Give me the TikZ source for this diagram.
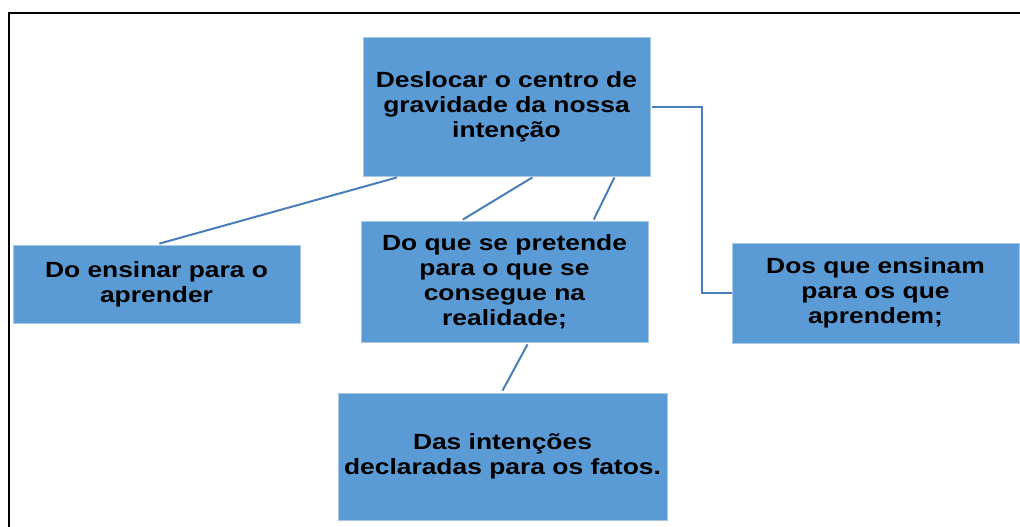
\documentclass[tikz,border=0pt]{standalone}
\usepackage{fontspec}
\usetikzlibrary{positioning,calc}
\newfontfamily\boxfont{Liberation Sans}[FakeStretch=1.2]
\definecolor{boxblue}{HTML}{5B9BD5}
\definecolor{lineblue}{HTML}{4A7EBB}
\definecolor{edgeblue}{HTML}{A8C8EA}
\tikzstyle{link} = [draw=lineblue, line width=2pt]
\tikzstyle{bluebox} = [draw=edgeblue, line width=0.8pt, fill=boxblue, rectangle, inner sep=0, align=center, font=\boxfont\bfseries\fontsize{22}{25}\selectfont]

\begin{document}
\begin{tikzpicture}[x=1pt, y=-1pt]
    \useasboundingbox (0,0) rectangle (1020,527);
    \draw [line width=2.4pt] (9,527) -- (9,13) -- (1020,13);

    \node [bluebox, minimum width=287, minimum height=139] (centro) at (506.5,106.5) {Deslocar o centro de\\gravidade da nossa\\intenção};
    \node [bluebox, minimum width=287, minimum height=78] (ensinar) at (156.5,284) {Do ensinar para o\\aprender};
    \node [bluebox, minimum width=287, minimum height=121] (pretende) at (504.5,281.5) {Do que se pretende\\para o que se\\consegue na\\realidade;};
    \node [bluebox, minimum width=287, minimum height=100] (ensinam) at (875.5,293) {Dos que ensinam\\para os que\\aprendem;};
    \node [bluebox, minimum width=329, minimum height=127] (fatos) at (502.5,456.5) {Das intenções\\declaradas para os fatos.};

    \draw [link] ($(centro.south west)!0.12!(centro.south east)+(0,1)$) -- ($(ensinar.north west)!0.51!(ensinar.north east)+(0,-1)$);
    \draw [link] ($(centro.south west)!0.59!(centro.south east)+(0,1)$) -- ($(pretende.north west)!0.355!(pretende.north east)+(0,-1)$);
    \draw [link] ($(centro.south west)!0.875!(centro.south east)+(0,1)$) -- ($(pretende.north west)!0.81!(pretende.north east)+(0,-1)$);
    \draw [link] ($(pretende.south west)!0.58!(pretende.south east)+(0,2)$) -- ($(fatos.north west)!0.5!(fatos.north east)+(0,-2)$);
    \draw [link] ($(centro.east)+(2,0)$) -- ++(50,0) |- (ensinam.west);
\end{tikzpicture}
\end{document}
